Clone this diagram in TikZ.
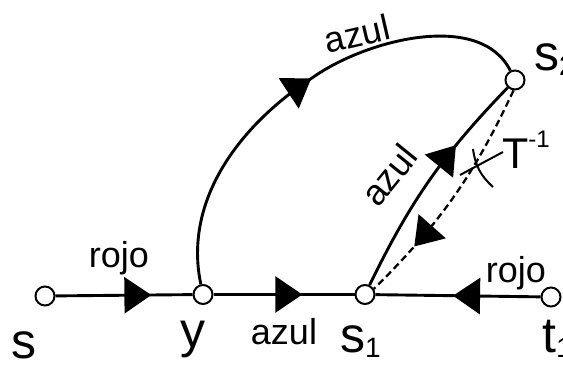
\documentclass[tikz,border=0pt]{standalone}
\usepackage{fontspec}
\setmainfont{Liberation Sans}
\usetikzlibrary{arrows.meta,positioning,decorations.markings}
\definecolor{ink}{RGB}{0,0,0}
\tikzset{
  vtx/.style={circle,draw=ink,fill=white,line width=2pt,minimum size=19pt,inner sep=0pt},
  wire/.style={line width=2.9pt,draw=ink},
  dwire/.style={line width=2.3pt,draw=ink,dash pattern=on 7pt off 4pt},
  midarr/.style={postaction={decorate},decoration={markings,
    mark=at position #1 with {\arrow{Triangle[length=27pt,width=36pt]}}}},
  lbl/.style={font=\fontsize{50}{50}\selectfont,inner sep=0pt,anchor=base west},
  col/.style={font=\fontsize{36}{36}\selectfont,inner sep=0pt},
}
\newcommand{\lowidx}[1]{\raisebox{-5pt}{\fontsize{28}{28}\selectfont #1}}
\newcommand{\highidx}[1]{\raisebox{21pt}{\fontsize{24}{24}\selectfont #1}}

\begin{document}
\begin{tikzpicture}[x=1pt,y=1pt]
\useasboundingbox (0,0) rectangle (563,-370);
% vertices
\node[vtx] (s)  at (45,-296)  {};
\node[vtx] (y)  at (203,-294.5) {};
\node[vtx] (s1) at (365,-294.5) {};
\node[vtx] (t1) at (551,-297) {};
\node[vtx] (s2) at (515,-80)  {};
% bottom line
\draw[wire,midarr=0.7] (s) -- (y);
\draw[wire,midarr=0.63] (y) -- (s1);
\draw[wire,midarr=0.53] (t1) -- (s1);
% big loop y -> s2
\draw[wire,midarr=0.53] (y) .. controls (183,-200) and (240,-125) .. (312,-78)
  .. controls (365,-40) and (480,-10) .. (s2);
% s1 -> s2 and back
\draw[wire,midarr=0.68] (s1) to[bend left=9] (s2);
\draw[dwire,midarr=0.76] (s2.262) to[bend left=10] (s1.32);
% cut mark on the dashed edge
\coordinate (c1) at (460,-175);
\coordinate (c2) at (503,-152);
\coordinate (c3) at (473,-149);
\coordinate (c4) at (493,-187);
\draw[line width=2pt] (c1) -- (c2);
\draw[line width=2pt] (c3) to[bend right=20] (c4);
% labels
\node[lbl] (ls)  at (11,-358)  {s};
\node[lbl] (ly)  at (180,-347) {y};
\node[lbl] (ls1) at (340,-352) {s\lowidx{1}};
\node[lbl] (lt1) at (542,-352) {t\lowidx{1}};
\node[lbl] (ls2) at (534,-70)  {s\lowidx{2}};
\node[lbl,font=\fontsize{43}{43}\selectfont] (lT) at (502,-168) {T\highidx{-1}};
\node[col,anchor=base] (r1) at (119,-267) {rojo};
\node[col,anchor=base] (r2) at (516,-282) {rojo};
\node[col,anchor=base] (a1) at (284,-344) {azul};
\node[col,rotate=13] (a2) at (357,-34) {azul};
\node[col,rotate=51] (a3) at (389,-175) {azul};
\end{tikzpicture}
\end{document}
